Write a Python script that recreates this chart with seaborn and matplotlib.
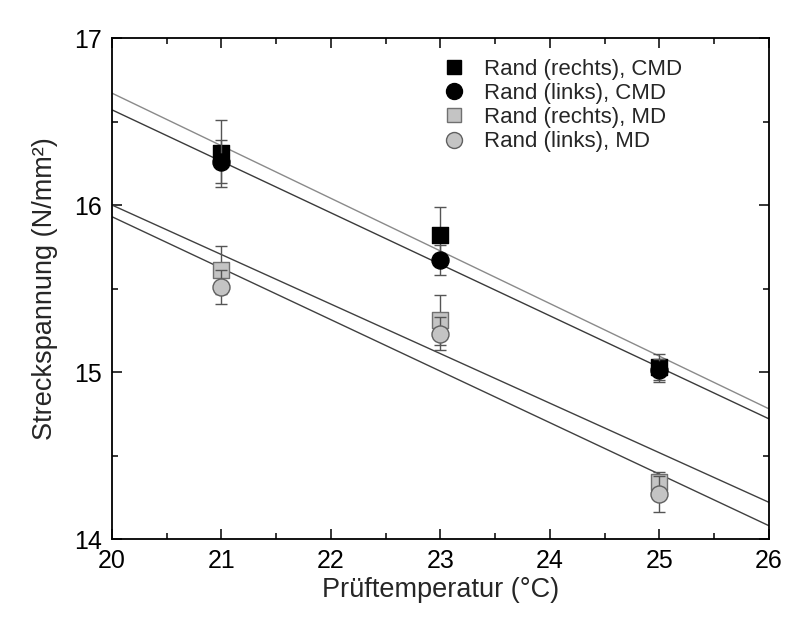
import matplotlib
matplotlib.use("Agg")
import matplotlib.pyplot as plt
import seaborn as sns
import numpy as np
import pandas as pd
from matplotlib.ticker import MultipleLocator

# ---- data ----
temps = [21, 23, 25]
series_names = ["Rand (rechts), CMD", "Rand (links), CMD", "Rand (rechts), MD", "Rand (links), MD"]
cmd_rechts = [16.31, 15.82, 15.03]
cmd_rechts_err = [0.20, 0.17, 0.08]
cmd_links = [16.26, 15.67, 15.01]
cmd_links_err = [0.13, 0.09, 0.07]
md_rechts = [15.61, 15.31, 14.34]
md_rechts_err = [0.145, 0.15, 0.06]
md_links = [15.51, 15.23, 14.27]
md_links_err = [0.10, 0.10, 0.11]
fit_x = [20, 26]
fit_rechts_cmd = [16.67, 14.78]
fit_links_cmd = [16.57, 14.72]
fit_rechts_md = [16.00, 14.22]
fit_links_md = [15.93, 14.08]

sns.set_style("ticks")
plt.rcParams['font.family'] = ['Liberation Sans', 'DejaVu Sans']

fig = plt.figure(figsize=(8.11, 6.19), dpi=100)
ax = fig.add_axes([0.138, 0.1292, 0.810, 0.8094])

# fit lines
fits = [fit_rechts_cmd, fit_links_cmd, fit_rechts_md, fit_links_md]
fit_colors = ["#8a8a8a", "#3a3a3a", "#404040", "#404040"]
for f, c in zip(fits, fit_colors):
    sns.lineplot(x=fit_x, y=f, ax=ax, color=c, linewidth=1.0, legend=False, zorder=1)

vals = [cmd_rechts, cmd_links, md_rechts, md_links]
errs = [cmd_rechts_err, cmd_links_err, md_rechts_err, md_links_err]
markers = ["s", "o", "s", "o"]
faces = ["black", "black", "#c4c4c4", "#c4c4c4"]
edges = ["black", "black", "#707070", "#606060"]
sizes = [120, 150, 120, 150]

handles = []
z = 3
for name, v, e, m, fc, ec, s in zip(series_names, vals, errs, markers, faces, edges, sizes):
    ax.errorbar(temps, v, yerr=e, fmt='none', ecolor="#555555", elinewidth=1.0,
                capsize=4.5, capthick=1.0, zorder=z)
    sns.scatterplot(x=temps, y=v, ax=ax, marker=m, color=fc, edgecolor=ec,
                    linewidth=1.0, s=s, zorder=z + 1, legend=False)
    z += 2
    handles.append(plt.Line2D([], [], linestyle='none', marker=m, markersize=10 if m == 's' else 11.5,
                              markerfacecolor=fc, markeredgecolor=ec, markeredgewidth=1.0, label=name))

ax.set_xlim(20, 26)
ax.set_ylim(14, 17)
ax.xaxis.set_major_locator(MultipleLocator(1))
ax.xaxis.set_minor_locator(MultipleLocator(0.5))
ax.yaxis.set_major_locator(MultipleLocator(1))
ax.yaxis.set_minor_locator(MultipleLocator(0.5))
ax.tick_params(which='both', direction='in', top=True, right=True, width=1.1, colors='black')
ax.tick_params(which='major', length=7.5, labelsize=18, pad=7)
ax.tick_params(which='minor', length=4)
for sp in ax.spines.values():
    sp.set_linewidth(1.3)
    sp.set_color('black')

ax.set_xlabel("Prüftemperatur (°C)", fontsize=19.5, labelpad=3)
ax.set_ylabel("Streckspannung (N/mm²)", fontsize=19.5, labelpad=12)

ax.legend(handles=handles, loc='upper right', bbox_to_anchor=(0.875, 0.967), frameon=False,
          fontsize=16, handletextpad=0.55, labelspacing=0.14, borderaxespad=0.0,
          borderpad=0.2, handlelength=1.6)

fig.savefig("out.png", dpi=100)
